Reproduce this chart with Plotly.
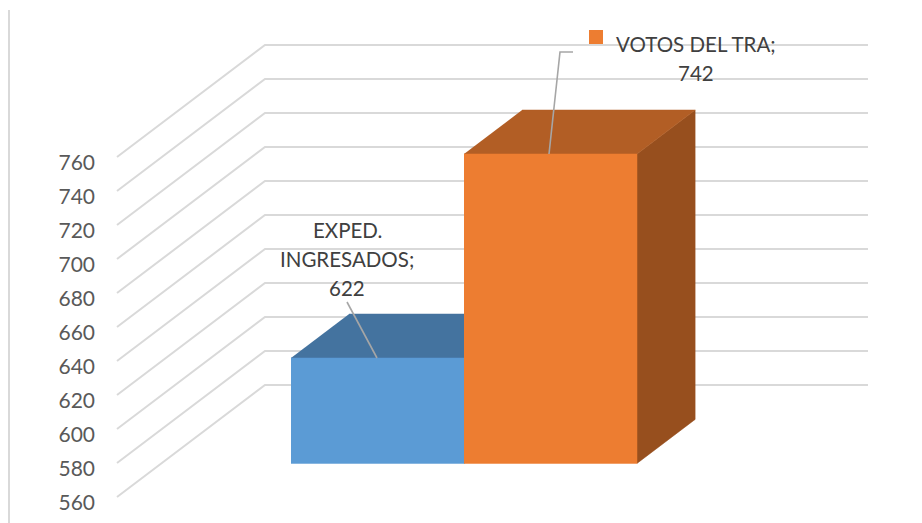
import plotly.graph_objects as go

# Data
categories = ["EXPED.<br>INGRESADOS", "VOTOS DEL TRA"]
values = [622, 742]
tick_values = [560, 580, 600, 620, 640, 660, 680, 700, 720, 740, 760]
front_colors = ["#5B9BD5", "#ED7D31"]
top_colors = ["#44739F", "#B25E25"]
side_color = "#974F1E"
label_color = "#404040"
axis_text_color = "#595959"
grid_color = "#D9D9D9"
leader_color = "#A6A6A6"

# Oblique projection of the chart's 3D box onto the x / value plane
W, H = 922, 523
PX_PER_UNIT = 1.7
BASE_VALUE = 560
BASE_PIXEL = 497
DEPTH_X, DEPTH_Y = 148, 112
WALL_LEFT = 117
WALL_WIDTH = 603
BAR_WIDTH = 173
BAR_LEFT = [291, 464]
BAR_D0 = 33.6 / 112
BAR_DEPTH = 44 / 112
LINE_PITCH = 29


def project(x, value, depth):
    """x along the floor, data value, depth 0..1 -> plotted x / y."""
    return x + depth * DEPTH_X, value + depth * DEPTH_Y / PX_PER_UNIT


def poly(points, color):
    xs, ys = zip(*points)
    return go.Scatter(
        x=list(xs), y=list(ys), mode="lines", fill="toself", fillcolor=color,
        line=dict(width=0.5, color=color), hoverinfo="skip", showlegend=False,
    )


def to_value(py):
    return BASE_VALUE + (BASE_PIXEL - py) / PX_PER_UNIT


fig = go.Figure()

# Gridlines: along the side wall, then along the back wall
for v in tick_values:
    p0 = project(WALL_LEFT, v, 0)
    p1 = project(WALL_LEFT, v, 1)
    fig.add_trace(go.Scatter(
        x=[p0[0], p1[0], p1[0] + WALL_WIDTH], y=[p0[1], p1[1], p1[1]], mode="lines",
        line=dict(color=grid_color, width=2), hoverinfo="skip", showlegend=False,
    ))

# Bars
for i, val in enumerate(values):
    x0 = BAR_LEFT[i] - BAR_D0 * DEPTH_X
    x1 = x0 + BAR_WIDTH
    d0, d1 = BAR_D0, BAR_D0 + BAR_DEPTH
    front = [project(x0, BASE_VALUE, d0), project(x1, BASE_VALUE, d0),
             project(x1, val, d0), project(x0, val, d0)]
    top = [project(x0, val, d0), project(x1, val, d0),
           project(x1, val, d1), project(x0, val, d1)]
    side = [project(x1, BASE_VALUE, d0), project(x1, BASE_VALUE, d1),
            project(x1, val, d1), project(x1, val, d0)]
    fig.add_trace(poly(side, side_color if i else top_colors[0]))
    fig.add_trace(poly(top, top_colors[i]))
    fig.add_trace(poly(front, front_colors[i]))

# Leader lines from labels to the bar tops
bar_top = [v + BAR_D0 * DEPTH_Y / PX_PER_UNIT for v in values]
fig.add_trace(go.Scatter(
    x=[347, 377], y=[to_value(302), bar_top[0]],
    mode="lines", line=dict(color=leader_color, width=1.6), hoverinfo="skip", showlegend=False))
fig.add_trace(go.Scatter(
    x=[573, 560, 549], y=[to_value(52), to_value(52), bar_top[1]],
    mode="lines", line=dict(color=leader_color, width=1.6), hoverinfo="skip", showlegend=False))

# Legend key beside the label
fig.add_trace(go.Scatter(
    x=[596], y=[to_value(37)], mode="markers",
    marker=dict(symbol="square", size=14, color=front_colors[1], line=dict(width=0)),
    hoverinfo="skip", showlegend=False))

# Data labels, one annotation per line so the line pitch can match
label_pos = [(347, 230), (696, 44)]
for cat, val, (lx, ly) in zip(categories, values, label_pos):
    lines = f"{cat};<br>{val}".split("<br>")
    for n, line in enumerate(lines):
        fig.add_annotation(
            x=lx, y=to_value(ly + n * LINE_PITCH), xref="x", yref="y", showarrow=False,
            text=line, align="center",
            font=dict(family="Lato", size=20.5, color=label_color),
        )

fig.add_shape(type="line", xref="paper", yref="paper",
              x0=(9 - 98) / (W - 98), x1=(9 - 98) / (W - 98), y0=0, y1=1 - 10 / H,
              line=dict(color="#D9D9D9", width=2))

fig.update_layout(
    width=W, height=H, margin=dict(l=98, r=0, t=0, b=0, pad=0, autoexpand=False),
    paper_bgcolor="white", plot_bgcolor="white", showlegend=False,
    xaxis=dict(range=[98, W], visible=False, fixedrange=True),
    yaxis=dict(
        range=[to_value(H), to_value(0)], tickmode="array", tickvals=tick_values,
        showgrid=False, zeroline=False, showline=False, ticks="", ticklen=0,
        ticklabelshift=6, ticklabelstandoff=2, fixedrange=True,
        tickfont=dict(family="Lato", size=21, color=axis_text_color),
    ),
)

fig.write_html("out.html", config={"displayModeBar": False},
               post_script="document.body.style.margin='0';")
